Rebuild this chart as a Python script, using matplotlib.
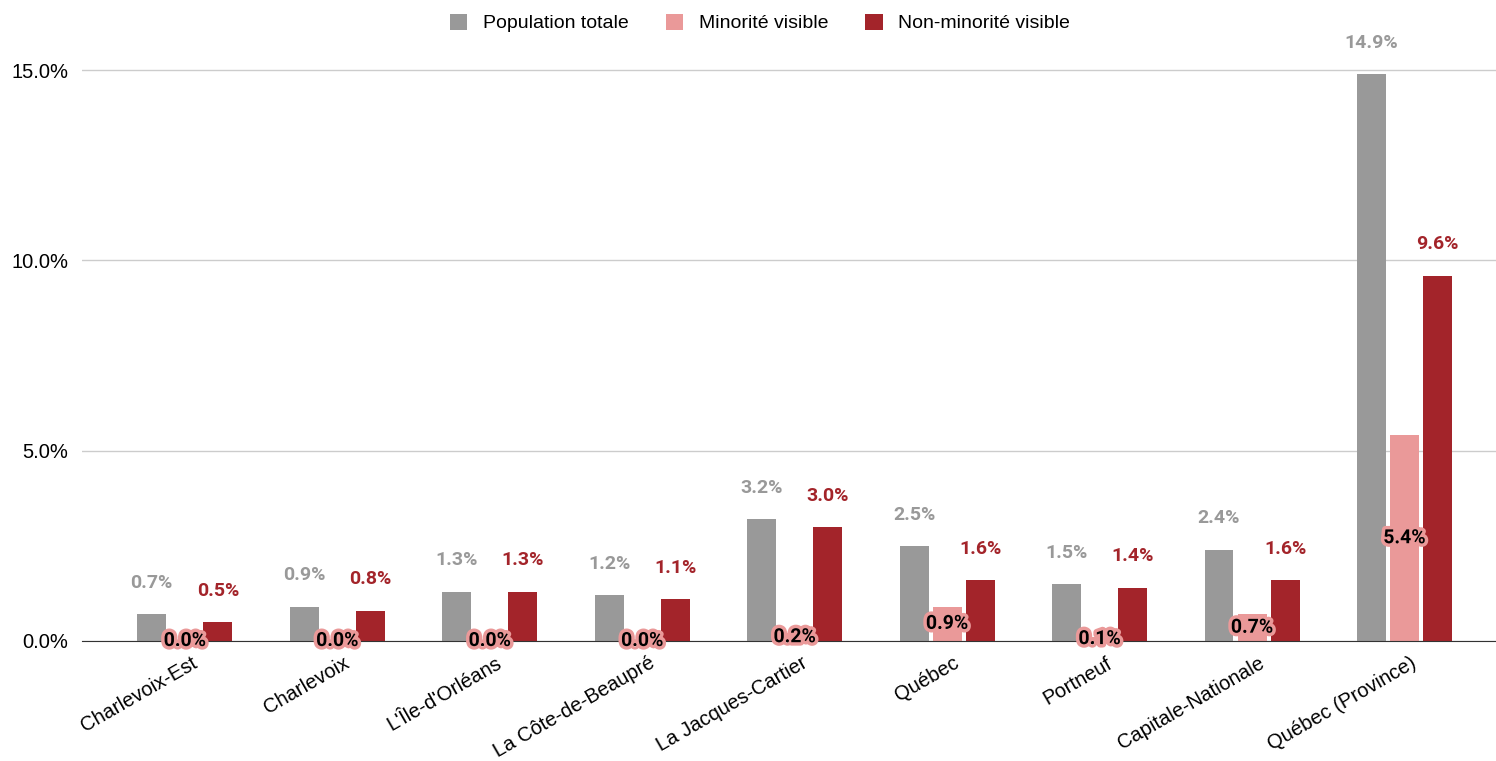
import numpy as np
import matplotlib
matplotlib.use('Agg')
import matplotlib.pyplot as plt
import matplotlib.patheffects as pe
import matplotlib.transforms as mtransforms

regions = ['Charlevoix-Est', 'Charlevoix', "L'Île-d'Orléans", 'La Côte-de-Beaupré',
           'La Jacques-Cartier', 'Québec', 'Portneuf', 'Capitale-Nationale', 'Québec (Province)']
pop_totale = [0.7, 0.9, 1.3, 1.2, 3.2, 2.5, 1.5, 2.4, 14.9]
minorite = [0.0, 0.0, 0.0, 0.0, 0.2, 0.9, 0.1, 0.7, 5.4]
non_minorite = [0.5, 0.8, 1.3, 1.1, 3.0, 1.6, 1.4, 1.6, 9.6]

c_gray = '#999999'
c_pink = '#ea9999'
c_red = '#a3242a'

plt.rcParams['font.family'] = ['Liberation Sans', 'DejaVu Sans']

fig = plt.figure(figsize=(14.96, 7.61), dpi=100)
ax = fig.add_axes([0.0548, 0.1577, 0.9452, 0.7898])

x = np.arange(len(regions))
w = 0.19
off = 0.217
ax.bar(x - off, pop_totale, w, color=c_gray, label='Population totale', zorder=3)
ax.bar(x, minorite, w, color=c_pink, label='Minorité visible', zorder=3)
ax.bar(x + off, non_minorite, w, color=c_red, label='Non-minorité visible', zorder=3)

# labels: gray/red above the bars, pink ones centred in the bar with a halo
lab_font = dict(fontsize=14, fontweight='bold', family=['Roboto', 'DejaVu Sans'])
for i in range(len(regions)):
    ax.annotate(f'{pop_totale[i]:.1f}%', (x[i] - off, pop_totale[i]), xytext=(0, 22.5),
                textcoords='offset points', ha='center', va='center',
                color=c_gray, **lab_font)
    ax.annotate(f'{non_minorite[i]:.1f}%', (x[i] + off, non_minorite[i]), xytext=(0, 22.5),
                textcoords='offset points', ha='center', va='center',
                color=c_red, **lab_font)
    ax.text(x[i], minorite[i] / 2, f'{minorite[i]:.1f}%', ha='center', va='center',
            color='black', zorder=5,
            path_effects=[pe.withStroke(linewidth=5, foreground=c_pink)], **lab_font)

ax.set_xlim(-0.675, 8.6)
ax.set_ylim(0, 15.79)
ax.set_yticks([0, 5, 10, 15])
ax.set_yticklabels(['0.0%', '5.0%', '10.0%', '15.0%'])
ax.yaxis.grid(True, color='#cccccc', linewidth=1, zorder=0)
ax.set_xticks(x)
ax.set_xticklabels(regions, rotation=30, ha='right', rotation_mode='anchor')
ax.tick_params(axis='both', length=0, labelsize=14.5, pad=10)
ax.tick_params(axis='x', pad=9)
shift = mtransforms.ScaledTranslation(6 / 100, 0, fig.dpi_scale_trans)
for lbl in ax.get_xticklabels():
    lbl.set_transform(lbl.get_transform() + shift)
for s in ['top', 'right', 'left']:
    ax.spines[s].set_visible(False)
ax.spines['bottom'].set_color('#333333')
ax.spines['bottom'].set_zorder(4)

leg = fig.legend(loc='upper center', bbox_to_anchor=(0.508, 1.005), ncol=3, frameon=False,
                 fontsize=14, handlelength=0.9, handleheight=0.9, columnspacing=1.9,
                 handletextpad=0.8)

fig.savefig('out.png', dpi=100)
